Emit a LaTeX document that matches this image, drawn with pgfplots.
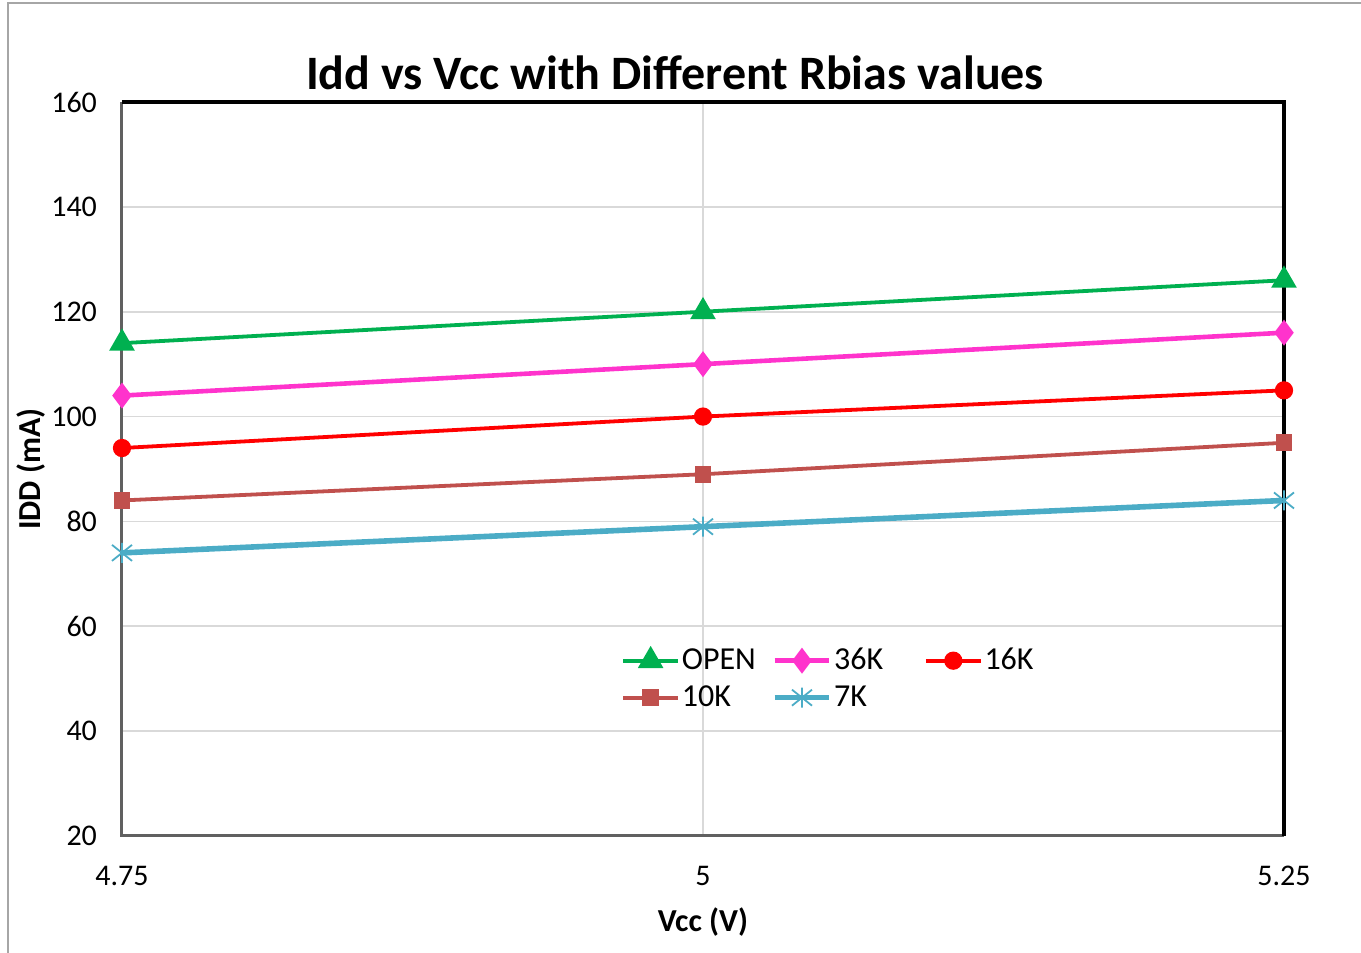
\documentclass[border=0pt]{standalone}
\usepackage{pgfplots}
\pgfplotsset{compat=1.18}
\usepackage{fontspec}
\setmainfont{Carlito}
\definecolor{cOpen}{HTML}{00B050}
\definecolor{c36}{HTML}{FF33CC}
\definecolor{c16}{HTML}{FF0000}
\definecolor{c10}{HTML}{C0504D}
\definecolor{c7}{HTML}{4BACC6}
\definecolor{gridc}{HTML}{D9D9D9}
\pgfdeclareplotmark{xstar}{%
  \pgfpathmoveto{\pgfpoint{0pt}{\pgfplotmarksize}}\pgfpathlineto{\pgfpoint{0pt}{-\pgfplotmarksize}}%
  \pgfpathmoveto{\pgfpoint{\pgfplotmarksize}{0.8\pgfplotmarksize}}\pgfpathlineto{\pgfpoint{-\pgfplotmarksize}{-0.8\pgfplotmarksize}}%
  \pgfpathmoveto{\pgfpoint{-\pgfplotmarksize}{0.8\pgfplotmarksize}}\pgfpathlineto{\pgfpoint{\pgfplotmarksize}{-0.8\pgfplotmarksize}}%
  \pgfusepathqstroke}
\begin{document}
\begin{tikzpicture}[x=1pt,y=1pt]
\useasboundingbox (0,0) rectangle (680.5,476.5);
\draw[gray!70, line width=1pt] (4,-20) -- (4,475) -- (700,475);
\node[font=\bfseries\fontsize{24}{28}\selectfont] at (337.5,440) {Idd vs Vcc with Different Rbias values};
\begin{axis}[
  at={(61pt,58.5pt)}, anchor=south west,
  scale only axis, width=581pt, height=367pt,
  xmin=4.75, xmax=5.25, ymin=20, ymax=160,
  xtick={4.75,5,5.25}, xticklabels={4.75,5,5.25},
  ytick={20,40,...,160},
  grid=major, major grid style={gridc, line width=0.8pt},
  axis line style={draw=none},
  tick style={draw=none},
  clip=false,
  /pgf/number format/assume math mode=true,
  ticklabel style={font=\fontsize{15}{17}\selectfont},
  yticklabel style={xshift=-9pt},
  xticklabel style={yshift=-11.5pt},
  xlabel={\textbf{Vcc (V)}}, ylabel={\textbf{IDD (mA)}},
  label style={font=\fontsize{16}{18}\selectfont},
  xlabel style={yshift=-4pt},
  ylabel style={yshift=-4pt},
  legend columns=3,
  legend style={at={(rel axis cs:0.4243,0.268)}, anchor=north west, draw=none, fill=none,
    font=\fontsize{16}{18}\selectfont, column sep=0pt, row sep=1.5pt,
    nodes={text width=44pt, align=left, inner xsep=1pt, inner ysep=1.5pt, text height=11.5pt, text depth=2.5pt}},
  legend cell align=left,
  legend image code/.code={\draw[mark repeat=2,mark phase=2] plot coordinates {(0cm,0cm) (0.48cm,0cm) (0.96cm,0cm)};},
]
\addplot[cOpen, line width=1.9pt, mark=triangle*, mark size=5.5pt, mark options={solid}] coordinates {(4.75,114) (5,120) (5.25,126)};
\addlegendentry{OPEN}
\addplot[c36, line width=2.3pt, mark=diamond*, mark size=4.6pt] coordinates {(4.75,104) (5,110) (5.25,116)};
\addlegendentry{36K}
\addplot[c16, line width=1.9pt, mark=*, mark size=3.6pt] coordinates {(4.75,94) (5,100) (5.25,105)};
\addlegendentry{16K}
\addplot[c10, line width=1.9pt, mark=square*, mark size=3.2pt] coordinates {(4.75,84) (5,89) (5.25,95)};
\addlegendentry{10K}
\addplot[c7, line width=2.8pt, mark=xstar, mark size=5pt, mark options={line width=0.9pt}] coordinates {(4.75,74) (5,79) (5.25,84)};
\addlegendentry{7K}
\draw[gray!75!black, line width=1.5pt] (rel axis cs:0,1) -- (rel axis cs:0,0) -- (rel axis cs:1,0);
\draw[black, line width=2pt] (rel axis cs:0,1) -- (rel axis cs:1,1) -- (rel axis cs:1,0);
\end{axis}
\end{tikzpicture}
\end{document}
